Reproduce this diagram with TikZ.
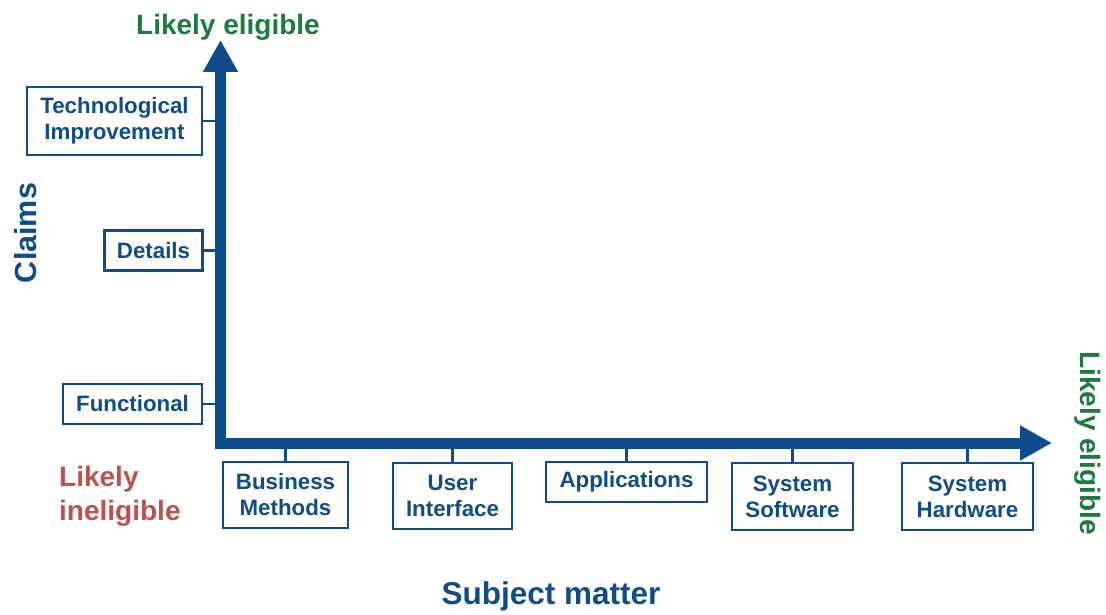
\documentclass[tikz,border=0pt]{standalone}
\usepackage{fontspec}
\setmainfont{Liberation Sans}
\usetikzlibrary{arrows.meta}
\definecolor{axisblue}{HTML}{0E4C8C}
\definecolor{eliggreen}{HTML}{1B7B3D}
\definecolor{inelred}{HTML}{C0504D}
\begin{document}
\begin{tikzpicture}[x=1pt,y=-1pt,
  catbox/.style={draw=axisblue, line width=2.9pt, fill=white, text=axisblue,
    font=\fontsize{22.3}{26}\selectfont\bfseries, align=center, inner sep=0pt},
  tick/.style={draw=axisblue, line width=2.9pt},
  axis/.style={draw=axisblue, line width=11pt, line join=miter,
    {Triangle[length=32pt,width=33pt]}-{Triangle[length=32pt,width=33pt]}},
  biglabel/.style={font=\fontsize{28}{34}\selectfont\bfseries}
]
\useasboundingbox (0,0) rectangle (1106,615);
% axes
\coordinate (ytop) at (220.5,40);
\coordinate (corner) at (220.5,443);
\coordinate (xend) at (1052,443);
\draw[axis] (ytop) -- (corner) -- (xend);
% left boxes
\node[catbox, minimum width=175pt, minimum height=68pt] (tech) at (114.5,121) {Technological\\Improvement};
\node[catbox, minimum width=98pt, minimum height=40pt] (det) at (153.5,250.5) {Details};
\node[catbox, minimum width=139pt, minimum height=40pt] (func) at (132.5,404) {Functional};
\foreach \n in {tech,det,func}
  \draw[tick] (\n.east) -- (\n.east -| corner);
% bottom boxes
\node[catbox, minimum width=125pt, minimum height=66pt] (bm) at (285.5,495) {Business\\Methods};
\node[catbox, minimum width=119pt, minimum height=66pt] (ui) at (452.5,496) {User\\Interface};
\node[catbox, minimum width=161pt, minimum height=40pt] (app) at (626.5,482) {Applications};
\node[catbox, minimum width=121pt, minimum height=67pt] (ss) at (792.5,496.5) {System\\Software};
\node[catbox, minimum width=131pt, minimum height=67pt] (sh) at (967.5,496.5) {System\\Hardware};
\foreach \n in {bm,ui,app,ss,sh}
  \draw[tick] (\n.north) -- (\n.north |- corner);
% labels
\node[biglabel, text=eliggreen, anchor=base] (topelig) at (228,35) {Likely eligible};
\node[biglabel, text=eliggreen, anchor=base, rotate=-90] (rightelig) at (1080,443) {Likely eligible};
\node[biglabel, text=inelred, anchor=north west, align=left, inner sep=0pt] (inel) at (59,466) {Likely\\ineligible};
\node[font=\fontsize{30.5}{36}\selectfont\bfseries, text=axisblue, anchor=base, rotate=90] (claims) at (36,233) {Claims};
\node[font=\fontsize{31.5}{36}\selectfont\bfseries, text=axisblue, anchor=base] (subj) at (551,604) {Subject matter};
\end{tikzpicture}
\end{document}
